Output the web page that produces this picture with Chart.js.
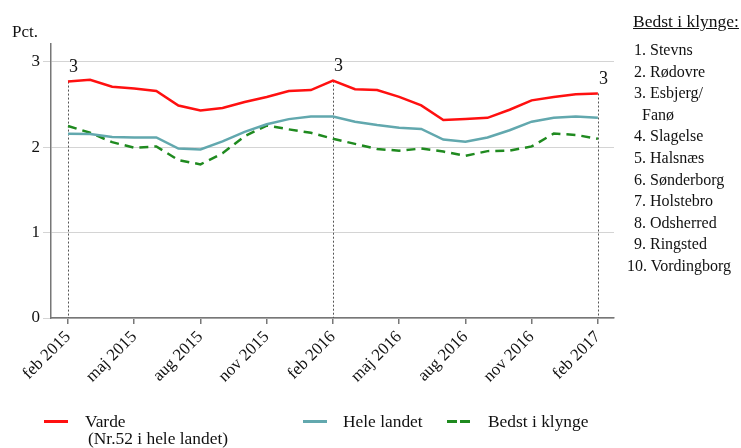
<!DOCTYPE html>
<html>
<head>
<meta charset="utf-8">
<script src="https://cdn.jsdelivr.net/npm/chart.js@4/dist/chart.umd.min.js"></script>
<style>
  html,body{margin:0;padding:0;background:#fff;}
  #wrap{position:relative;width:741px;height:448px;overflow:hidden;font-family:"Liberation Serif","Times New Roman",serif;color:#111;}
  #c{position:absolute;left:0;top:0;}
  .t{position:absolute;white-space:nowrap;font-size:16px;line-height:20px;}
  .sw{position:absolute;height:0;}
</style>
</head>
<body>
<div id="wrap">
  <canvas id="c" width="741" height="448"></canvas>
</div>
<script>
// ---- data ----
const months = ['feb 2015','mar 2015','apr 2015','maj 2015','jun 2015','jul 2015','aug 2015','sep 2015','okt 2015','nov 2015','dec 2015','jan 2016',
                'feb 2016','mar 2016','apr 2016','maj 2016','jun 2016','jul 2016','aug 2016','sep 2016','okt 2016','nov 2016','dec 2016','jan 2017','feb 2017'];
const varde      = [2.77,2.79,2.71,2.69,2.66,2.49,2.43,2.46,2.53,2.59,2.66,2.67,2.78,2.68,2.67,2.59,2.49,2.32,2.33,2.345,2.44,2.55,2.59,2.62,2.63];
const heleLandet = [2.16,2.155,2.12,2.115,2.115,1.985,1.975,2.07,2.18,2.27,2.33,2.36,2.36,2.30,2.26,2.23,2.215,2.09,2.065,2.115,2.20,2.30,2.345,2.36,2.345];
const bedst      = [2.25,2.17,2.06,1.995,2.01,1.85,1.80,1.93,2.13,2.255,2.21,2.17,2.10,2.04,1.98,1.96,1.985,1.95,1.90,1.955,1.96,2.01,2.16,2.145,2.10];
const xTickLabels = ['feb 2015','maj 2015','aug 2015','nov 2015','feb 2016','maj 2016','aug 2016','nov 2016','feb 2017'];
const yTicks = [0,1,2,3];
const annotIdx  = [0,12,24];
const annotText = ['3','3','3'];
const seriesNames = ['Varde','Hele landet','Bedst i klynge'];
const clusterTitle = 'Bedst i klynge:';
const clusterList = ['1. Stevns','2. Rødovre','3. Esbjerg/','Fanø','4. Slagelse','5. Halsnæs','6. Sønderborg','7. Holstebro','8. Odsherred','9. Ringsted','10. Vordingborg'];

const FONT = '"Liberation Serif","Times New Roman",serif';
const toXY = arr => arr.map((v,i)=>({x:i,y:v}));

const annotPlugin = {
  id:'annot',
  beforeDatasetsDraw(chart){
    const {ctx, scales:{x,y}, chartArea} = chart;
    ctx.save();
    ctx.strokeStyle='#555';
    ctx.lineWidth=1;
    ctx.setLineDash([2,2]);
    annotIdx.forEach(i=>{
      const px = Math.round(x.getPixelForValue(i))+0.5;
      ctx.beginPath();
      ctx.moveTo(px, y.getPixelForValue(varde[i]));
      ctx.lineTo(px, chartArea.bottom);
      ctx.stroke();
    });
    ctx.restore();
  },
  afterDatasetsDraw(chart){
    const {ctx, scales:{x,y}} = chart;
    ctx.save();
    ctx.fillStyle='#111';
    ctx.font='18px '+FONT;
    ctx.textAlign='left';
    ctx.textBaseline='alphabetic';
    annotIdx.forEach((i,k)=>{
      const px = x.getPixelForValue(i);
      const py = y.getPixelForValue(varde[i]);
      ctx.fillText(annotText[k], px+1, py-10);
    });
    ctx.restore();
  }
};

new Chart(document.getElementById('c'), {
  type:'line',
  data:{
    labels: months,
    datasets:[
      {label:seriesNames[0], data:toXY(varde), borderColor:'#ff1010', borderWidth:2.5, pointRadius:0, tension:0, fill:false},
      {label:seriesNames[1], data:toXY(heleLandet), borderColor:'#62a8ae', borderWidth:2.5, pointRadius:0, tension:0, fill:false},
      {label:seriesNames[2], data:toXY(bedst), borderColor:'#1f8a1f', borderWidth:2.5, borderDash:[9,6], pointRadius:0, tension:0, fill:false}
    ]
  },
  options:{
    responsive:false,
    animation:false,
    devicePixelRatio:1,
    layout:{padding:{left:0, top:44, right:127, bottom:50}},
    plugins:{legend:{display:false}, tooltip:{enabled:false}},
    scales:{
      x:{
        type:'linear',
        min:-0.77, max:24.73,
        afterBuildTicks(s){ s.ticks = xTickLabels.map((l,k)=>({value:k*3})); },
        afterFit(s){ s.height = 80; },
        ticks:{
          autoSkip:false, minRotation:45, maxRotation:45, padding:3,
          color:'#111', font:{family:FONT, size:17},
          callback:(v)=> xTickLabels[Math.round(v/3)]
        },
        grid:{display:true, drawOnChartArea:false, drawTicks:true, tickLength:6, color:'#777', lineWidth:1.5},
        border:{display:true, color:'#777', width:1.5}
      },
      y:{
        min:0, max:3.21,
        afterBuildTicks(s){ s.ticks = yTicks.map(v=>({value:v})); },
        afterFit(s){ s.width = 51; },
        ticks:{padding:3, color:'#111', font:{family:FONT, size:17}},
        grid:{color:'#d4d4d4', lineWidth:1, tickLength:8, drawTicks:true},
        border:{display:true, color:'#777', width:1.5}
      }
    }
  },
  plugins:[annotPlugin]
});

// ---- HTML texts: axis title, legend, cluster list ----
const wrap = document.getElementById('wrap');
function txt(s, left, cy, extra){
  const d=document.createElement('div');
  d.className='t'; d.textContent=s;
  d.style.left=left+'px'; d.style.top=(cy-10)+'px';
  if(extra) Object.assign(d.style, extra);
  wrap.appendChild(d); return d;
}
function swatch(left, width, cy, color){
  const d=document.createElement('div');
  d.className='sw';
  d.style.left=left+'px'; d.style.top=(cy-1.5)+'px'; d.style.width=width+'px';
  d.style.borderTop = '3px solid '+color;
  wrap.appendChild(d);
}
const LEG = {fontSize:'17.4px'};
txt('Pct.', 12, 32, {fontSize:'17px'});
// legend
swatch(44, 24, 421, '#ff1010');
txt(seriesNames[0], 85, 421, LEG);
txt('(Nr.52 i hele landet)', 88, 438, LEG);
swatch(303, 24, 421, '#62a8ae');
txt(seriesNames[1], 343, 421, LEG);
swatch(447, 10, 421, '#1f8a1f');
swatch(460, 10, 421, '#1f8a1f');
txt(seriesNames[2], 488, 421, LEG);
// cluster list
txt(clusterTitle, 633, 21, {fontSize:'17.5px', textDecoration:'underline'});
clusterList.forEach((s,i)=>{
  const cy = 50 + i*21.6;
  let left = 634;
  if (s.startsWith('10.')) left = 627;
  if (s === 'Fanø') left = 642;
  txt(s, left, cy);
});
</script>
</body>
</html>
